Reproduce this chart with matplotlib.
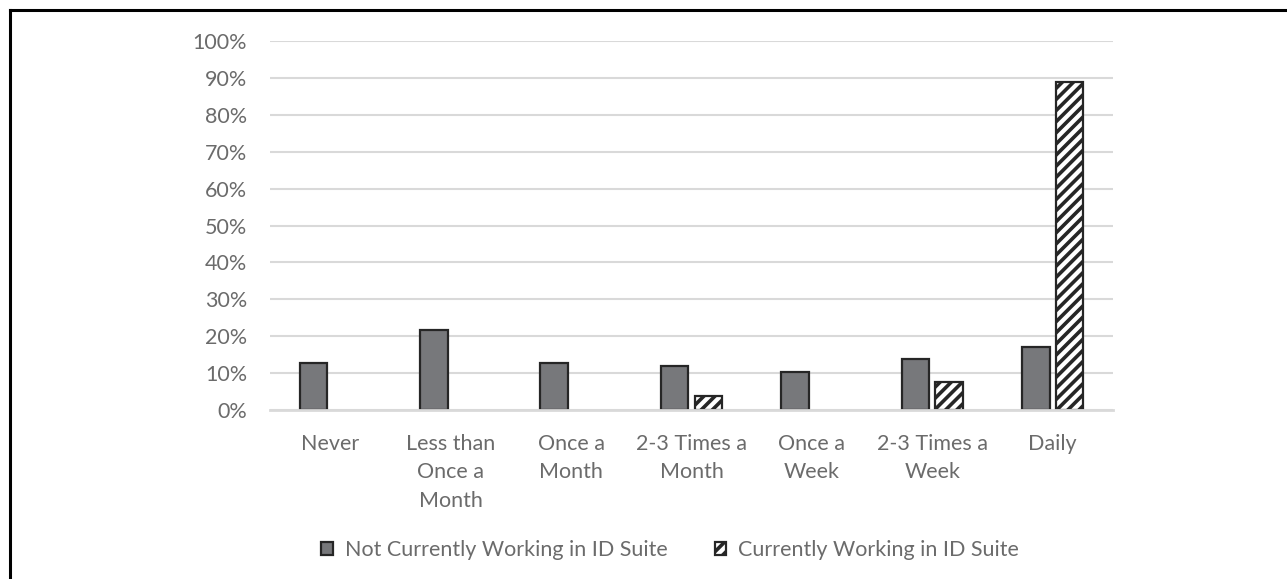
import matplotlib.pyplot as plt
import numpy as np
from matplotlib.ticker import PercentFormatter
from matplotlib.lines import Line2D

categories = ["Never", "Less than\nOnce a\nMonth", "Once a\nMonth", "2-3 Times a\nMonth",
              "Once a\nWeek", "2-3 Times a\nWeek", "Daily"]
not_working = [12.8, 21.7, 12.8, 12.0, 10.4, 13.8, 17.0]
working = [0, 0, 0, 3.7, 0, 7.5, 89.0]
series_names = ["Not Currently Working in ID Suite", "Currently Working in ID Suite"]

plt.rcParams['font.family'] = ['Lato', 'DejaVu Sans']
plt.rcParams['hatch.linewidth'] = 2.6
plt.rcParams['hatch.color'] = '#1a1a1a'

txt = '#6b6b6b'
fs = 15.5
fig = plt.figure(figsize=(12.87, 5.79), dpi=100)
ax = fig.add_axes([270/1287, 1-410/579, (1113-270)/1287, (410-41)/579])

x = np.arange(len(categories))
w = 0.23
ax.bar(x - 0.14, not_working, w, color='#77787b', edgecolor='#262626', linewidth=1.6,
       label=series_names[0], zorder=3)
h = np.array(working)
ax.bar(x[h > 0] + 0.14, h[h > 0], w, color='white', edgecolor='#262626', linewidth=1.6,
       hatch='///', label=series_names[1], zorder=3)

ax.set_xlim(-0.5, len(categories) - 0.5)
ax.set_ylim(0, 100)
ax.set_yticks(np.arange(0, 101, 10))
ax.yaxis.set_major_formatter(PercentFormatter(decimals=0))
ax.grid(axis='y', color='#d9d9d9', linewidth=1.5, zorder=0)
for s in ['top', 'right', 'left']:
    ax.spines[s].set_visible(False)
ax.spines['bottom'].set_color('#d9d9d9')
ax.spines['bottom'].set_linewidth(2)
ax.spines['bottom'].set_zorder(4)
ax.set_xticks(x)
ax.set_xticklabels(categories, linespacing=1.55)
ax.tick_params(axis='both', length=0, labelsize=fs, labelcolor=txt)
ax.tick_params(axis='y', pad=16.5)
ax.tick_params(axis='x', pad=17)

fig.legend(loc='center', bbox_to_anchor=(670/1287, 1-550/579), ncol=2, frameon=False,
           fontsize=fs, labelcolor=txt, handlelength=0.55, handleheight=0.55,
           columnspacing=2.2, handletextpad=0.55)

# border at left and top
fig.add_artist(Line2D([10/1287, 10/1287], [0, 1-10/579], color='black', linewidth=2.2,
                      transform=fig.transFigure))
fig.add_artist(Line2D([10/1287, 1], [1-10/579, 1-10/579], color='black', linewidth=2.2,
                      transform=fig.transFigure))

fig.savefig('out.png', dpi=100)
